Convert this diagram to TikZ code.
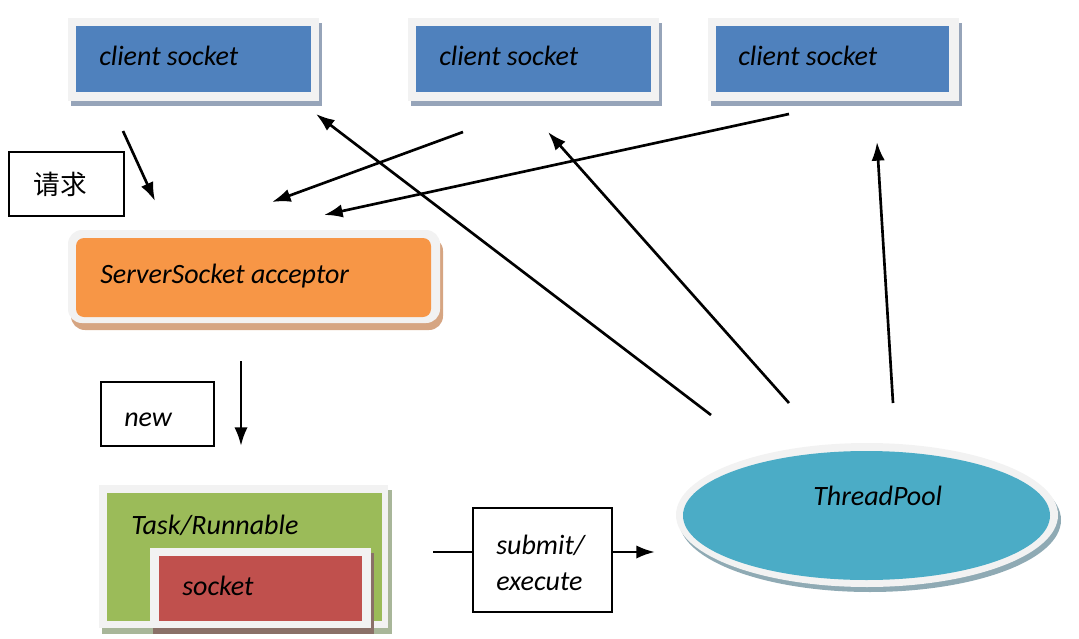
\documentclass[tikz,border=0pt]{standalone}
\usepackage{fontspec}
\setmainfont{Carlito}
\newfontfamily\cjk{Noto Sans CJK SC}
\usetikzlibrary{arrows.meta}

\begin{document}
\begin{tikzpicture}[x=0.75pt,y=0.75pt,yscale=-1,xscale=1,
  font=\fontsize{21}{27}\selectfont\itshape,
  arr/.style={line width=2pt, -{Latex[length=14pt,width=10pt]}},
  lbox/.style={line width=1.5pt},
  frame/.style={fill={rgb, 255:red, 242; green, 242; blue, 242 }},
  bluefill/.style={fill={rgb, 255:red, 79; green, 129; blue, 189 }},
  blueshadow/.style={fill={rgb, 255:red, 150; green, 164; blue, 185 }},
  orangefill/.style={fill={rgb, 255:red, 247; green, 150; blue, 70 }},
  orangeshadow/.style={fill={rgb, 255:red, 214; green, 165; blue, 130 }},
  greenfill/.style={fill={rgb, 255:red, 155; green, 187; blue, 89 }},
  greenshadow/.style={fill={rgb, 255:red, 168; green, 182; blue, 153 }},
  redfill/.style={fill={rgb, 255:red, 192; green, 80; blue, 77 }},
  redshadow/.style={fill={rgb, 255:red, 138; green, 112; blue, 104 }},
  tealfill/.style={fill={rgb, 255:red, 75; green, 172; blue, 198 }},
  tealshadow/.style={fill={rgb, 255:red, 143; green, 170; blue, 180 }}
]
\useasboundingbox (0,0) rectangle (1079,639);

%Shape: Rectangle [client socket 1]
\fill [blueshadow] (71,23) rectangle (322,106);
\fill [frame] (68,18) rectangle (319,101);
\fill [bluefill] (76,26) rectangle (311,92);
%Shape: Rectangle [client socket 2]
\fill [blueshadow] (411,23) rectangle (662,106);
\fill [frame] (408,18) rectangle (659,101);
\fill [bluefill] (416,26) rectangle (651,92);
%Shape: Rectangle [client socket 3]
\fill [blueshadow] (711,23) rectangle (962,106);
\fill [frame] (708,18) rectangle (959,101);
\fill [bluefill] (716,26) rectangle (949,92);

%Shape: Rectangle [request label]
\draw [lbox] (9,152) rectangle (124,216);
%Shape: Rounded Rect [acceptor]
\fill [orangeshadow, rounded corners=10.5pt] (71,237) rectangle (443,330);
\fill [frame, rounded corners=10.5pt] (68,230) rectangle (440,323);
\fill [orangefill, rounded corners=6pt] (76,238) rectangle (431,317);

%Shape: Rectangle [new label]
\draw [lbox] (101,382) rectangle (214,446);

%Shape: Rectangle [task]
\fill [greenshadow] (102,490) rectangle (392,634);
\fill [frame] (99,485) rectangle (388,628);
\fill [greenfill] (107,493) rectangle (382,621);
%Shape: Rectangle [socket]
\fill [redshadow] (153,553) rectangle (374,634);
\fill [frame] (150,548) rectangle (371,628);
\fill [redfill] (159,556) rectangle (362,621);

%Shape: Rectangle [submit label]
\draw [lbox] (473,508) rectangle (612,612);

%Shape: Ellipse [pool]
\fill [tealshadow] (870,520) ellipse [x radius=191, y radius=72];
\fill [frame] (867,515) ellipse [x radius=191, y radius=72];
\fill [tealfill] (866.5,515.5) ellipse [x radius=183.5, y radius=64.5];

% Text Node
\draw (98,65) node [anchor=base west][inner sep=0.75pt] (cs1) {client socket};
% Text Node
\draw (438,65) node [anchor=base west][inner sep=0.75pt] (cs2) {client socket};
% Text Node
\draw (737,65) node [anchor=base west][inner sep=0.75pt] (cs3) {client socket};
% Text Node
\draw (60,184) node [inner sep=0.75pt][font=\fontsize{20}{24}\cjk] (req) {请求};
% Text Node
\draw (99,283) node [anchor=base west][inner sep=0.75pt] (acceptor) {ServerSocket acceptor};
% Text Node
\draw (123,426) node [anchor=base west][inner sep=0.75pt] (new) {new};
% Text Node
\draw (130,534) node [anchor=base west][inner sep=0.75pt] (task) {Task/Runnable};
% Text Node
\draw (181,595) node [anchor=base west][inner sep=0.75pt] (sock) {socket};
% Text Node
\draw (495,563) node [anchor=west, align=left][inner sep=0.75pt] (submit) {submit/\\execute};
% Text Node
\draw (812,505) node [anchor=base west][inner sep=0.75pt] (pool) {ThreadPool};

%Connector ends
\coordinate (cs1out) at (123,131);
\coordinate (accin1) at (155,201);
\coordinate (cs2out) at (463,132);
\coordinate (accin2) at (272,202);
\coordinate (cs3out) at (789,114);
\coordinate (accin3) at (324,215);
\coordinate (poolout1) at (711,415);
\coordinate (cs1in) at (316,114);
\coordinate (poolout2) at (789,403);
\coordinate (cs2in) at (548,132);
\coordinate (poolout3) at (893,403);
\coordinate (cs3in) at (877,142);
\coordinate (accout) at (241,361);
\coordinate (taskin) at (241,446);
\coordinate (taskout) at (433,552);
\coordinate (subin) at (473,552);
\coordinate (subout) at (612,552);
\coordinate (poolin) at (655,552);

%Straight Lines
\draw [arr] (cs1out) -- (accin1);
\draw [arr] (cs2out) -- (accin2);
\draw [arr] (cs3out) -- (accin3);
\draw [arr] (poolout1) -- (cs1in);
\draw [arr] (poolout2) -- (cs2in);
\draw [arr] (poolout3) -- (cs3in);
\draw [arr] (accout) -- (taskin);
\draw [line width=2pt] (taskout) -- (subin);
\draw [arr] (subout) -- (poolin);

\end{tikzpicture}
\end{document}
